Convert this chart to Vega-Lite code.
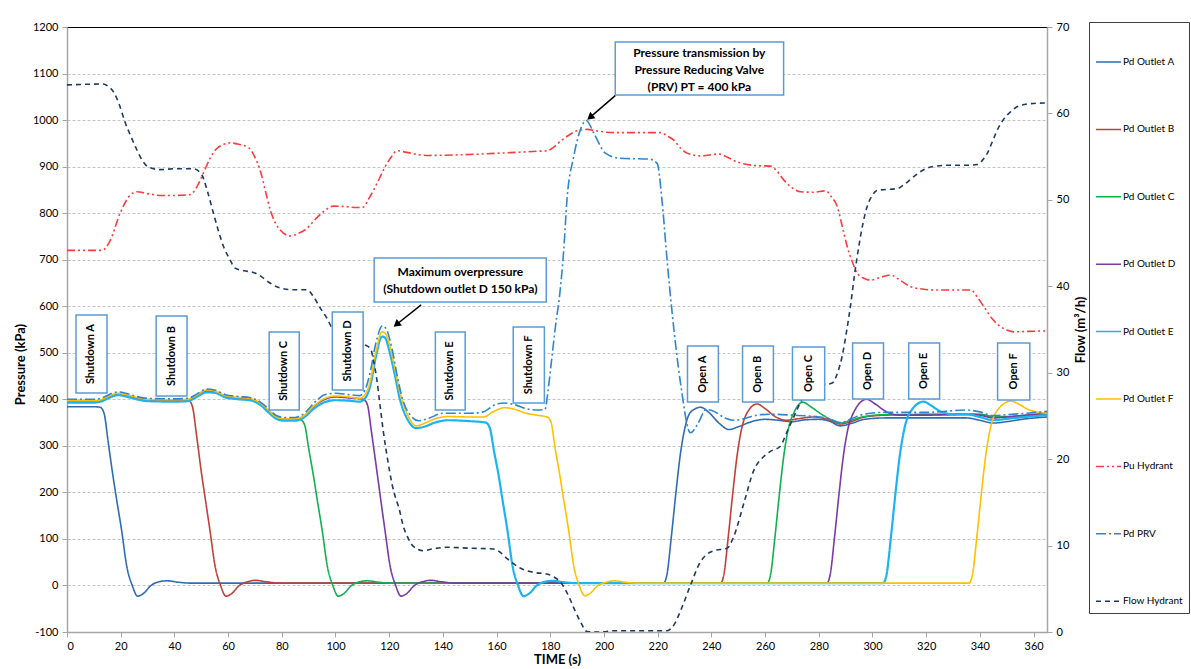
{
"$schema": "https://vega.github.io/schema/vega-lite/v6.json",
"width": 980, "height": 605,
"autosize": {"type": "none"},
"padding": {"left": 67, "top": 27, "right": 144, "bottom": 37},
"background": "white",
"config": {
 "font": "Lato",
 "view": {"stroke": "#000", "strokeWidth": 1},
 "axis": {"labelFont": "Lato", "titleFont": "Lato", "labelFontSize": 11, "labelColor": "#000", "titleColor": "#000", "titleFontSize": 13, "titleFontWeight": "bold", "domainColor": "#A6A6A6", "tickColor": "#A6A6A6", "tickSize": 5, "domainWidth": 1.5},
 "legend": {"orient": "none", "legendX": 1022, "legendY": -5, "strokeColor": "#404040", "padding": 6, "labelFont": "Lato", "labelFontSize": 10, "labelColor": "#000", "labelOffset": 1, "symbolType": "stroke", "symbolSize": 625, "symbolStrokeWidth": 1.5, "rowPadding": 48.4, "titleOrient": "top", "titleFontSize": 20, "titlePadding": 0.5}
},
"datasets": {
"p": [
{"s":"Pd Outlet A","t":0,"v":384},{"s":"Pd Outlet A","t":10,"v":384},{"s":"Pd Outlet A","t":12.3,"v":383},{"s":"Pd Outlet A","t":13.8,"v":370},{"s":"Pd Outlet A","t":15.3,"v":310},{"s":"Pd Outlet A","t":17,"v":240},{"s":"Pd Outlet A","t":18.5,"v":184},{"s":"Pd Outlet A","t":20.3,"v":120},{"s":"Pd Outlet A","t":22.3,"v":40},{"s":"Pd Outlet A","t":24.3,"v":0},{"s":"Pd Outlet A","t":26.3,"v":-23},{"s":"Pd Outlet A","t":28.3,"v":-18},{"s":"Pd Outlet A","t":31.3,"v":0},{"s":"Pd Outlet A","t":34.3,"v":8},{"s":"Pd Outlet A","t":37.3,"v":10},{"s":"Pd Outlet A","t":41.3,"v":7},{"s":"Pd Outlet A","t":46.3,"v":5},{"s":"Pd Outlet A","t":100,"v":5},{"s":"Pd Outlet A","t":200,"v":5},{"s":"Pd Outlet A","t":222.2,"v":5},{"s":"Pd Outlet A","t":223.5,"v":25},{"s":"Pd Outlet A","t":225,"v":100},{"s":"Pd Outlet A","t":226.8,"v":200},{"s":"Pd Outlet A","t":228.4,"v":280},{"s":"Pd Outlet A","t":230.2,"v":340},{"s":"Pd Outlet A","t":232.2,"v":372},{"s":"Pd Outlet A","t":236,"v":383},{"s":"Pd Outlet A","t":239,"v":372},{"s":"Pd Outlet A","t":243,"v":348},{"s":"Pd Outlet A","t":246.5,"v":335},{"s":"Pd Outlet A","t":250,"v":341},{"s":"Pd Outlet A","t":255,"v":352},{"s":"Pd Outlet A","t":260,"v":357},{"s":"Pd Outlet A","t":265,"v":355},{"s":"Pd Outlet A","t":270,"v":352},{"s":"Pd Outlet A","t":275,"v":356},{"s":"Pd Outlet A","t":280,"v":357},{"s":"Pd Outlet A","t":284,"v":353},{"s":"Pd Outlet A","t":288,"v":343},{"s":"Pd Outlet A","t":292,"v":348},{"s":"Pd Outlet A","t":297,"v":357},{"s":"Pd Outlet A","t":305,"v":360},{"s":"Pd Outlet A","t":320,"v":360},{"s":"Pd Outlet A","t":335,"v":360},{"s":"Pd Outlet A","t":340,"v":355},{"s":"Pd Outlet A","t":345,"v":349},{"s":"Pd Outlet A","t":350,"v":352},{"s":"Pd Outlet A","t":357,"v":358},{"s":"Pd Outlet A","t":365,"v":362},
{"s":"Pd Outlet B","t":0,"v":395},{"s":"Pd Outlet B","t":10,"v":395},{"s":"Pd Outlet B","t":13,"v":398},{"s":"Pd Outlet B","t":16,"v":406},{"s":"Pd Outlet B","t":19,"v":411},{"s":"Pd Outlet B","t":22,"v":408},{"s":"Pd Outlet B","t":26,"v":402},{"s":"Pd Outlet B","t":30,"v":398},{"s":"Pd Outlet B","t":40,"v":397},{"s":"Pd Outlet B","t":45.2,"v":398},{"s":"Pd Outlet B","t":46.7,"v":385},{"s":"Pd Outlet B","t":48.2,"v":325},{"s":"Pd Outlet B","t":50,"v":245},{"s":"Pd Outlet B","t":51.4,"v":190},{"s":"Pd Outlet B","t":53.2,"v":120},{"s":"Pd Outlet B","t":55.2,"v":40},{"s":"Pd Outlet B","t":57.2,"v":0},{"s":"Pd Outlet B","t":59.2,"v":-23},{"s":"Pd Outlet B","t":61.2,"v":-18},{"s":"Pd Outlet B","t":64.2,"v":0},{"s":"Pd Outlet B","t":67.2,"v":8},{"s":"Pd Outlet B","t":70.2,"v":11},{"s":"Pd Outlet B","t":74.2,"v":8},{"s":"Pd Outlet B","t":79.2,"v":5},{"s":"Pd Outlet B","t":150,"v":5},{"s":"Pd Outlet B","t":243.4,"v":5},{"s":"Pd Outlet B","t":244.7,"v":25},{"s":"Pd Outlet B","t":246.2,"v":100},{"s":"Pd Outlet B","t":248,"v":200},{"s":"Pd Outlet B","t":249.6,"v":280},{"s":"Pd Outlet B","t":251.4,"v":340},{"s":"Pd Outlet B","t":253.4,"v":372},{"s":"Pd Outlet B","t":257,"v":390},{"s":"Pd Outlet B","t":260,"v":380},{"s":"Pd Outlet B","t":264,"v":362},{"s":"Pd Outlet B","t":268,"v":355},{"s":"Pd Outlet B","t":272,"v":358},{"s":"Pd Outlet B","t":278,"v":362},{"s":"Pd Outlet B","t":282,"v":359},{"s":"Pd Outlet B","t":285,"v":353},{"s":"Pd Outlet B","t":288,"v":347},{"s":"Pd Outlet B","t":292,"v":352},{"s":"Pd Outlet B","t":297,"v":362},{"s":"Pd Outlet B","t":305,"v":366},{"s":"Pd Outlet B","t":320,"v":367},{"s":"Pd Outlet B","t":340,"v":367},{"s":"Pd Outlet B","t":345,"v":362},{"s":"Pd Outlet B","t":350,"v":362},{"s":"Pd Outlet B","t":357,"v":364},{"s":"Pd Outlet B","t":365,"v":368},
{"s":"Pd Outlet C","t":0,"v":395},{"s":"Pd Outlet C","t":10,"v":395},{"s":"Pd Outlet C","t":13,"v":398},{"s":"Pd Outlet C","t":16,"v":406},{"s":"Pd Outlet C","t":19,"v":411},{"s":"Pd Outlet C","t":22,"v":408},{"s":"Pd Outlet C","t":26,"v":402},{"s":"Pd Outlet C","t":30,"v":398},{"s":"Pd Outlet C","t":40,"v":397},{"s":"Pd Outlet C","t":45,"v":398},{"s":"Pd Outlet C","t":48,"v":406},{"s":"Pd Outlet C","t":52,"v":418},{"s":"Pd Outlet C","t":55,"v":416},{"s":"Pd Outlet C","t":59,"v":406},{"s":"Pd Outlet C","t":64,"v":402},{"s":"Pd Outlet C","t":68,"v":400},{"s":"Pd Outlet C","t":72,"v":390},{"s":"Pd Outlet C","t":75,"v":375},{"s":"Pd Outlet C","t":78,"v":362},{"s":"Pd Outlet C","t":81,"v":357},{"s":"Pd Outlet C","t":85,"v":357},{"s":"Pd Outlet C","t":87,"v":356},{"s":"Pd Outlet C","t":88.5,"v":345},{"s":"Pd Outlet C","t":90,"v":295},{"s":"Pd Outlet C","t":91.8,"v":235},{"s":"Pd Outlet C","t":93.2,"v":184},{"s":"Pd Outlet C","t":95,"v":120},{"s":"Pd Outlet C","t":97,"v":40},{"s":"Pd Outlet C","t":99,"v":0},{"s":"Pd Outlet C","t":101,"v":-23},{"s":"Pd Outlet C","t":103,"v":-18},{"s":"Pd Outlet C","t":106,"v":0},{"s":"Pd Outlet C","t":109,"v":8},{"s":"Pd Outlet C","t":112,"v":10},{"s":"Pd Outlet C","t":116,"v":7},{"s":"Pd Outlet C","t":121,"v":5},{"s":"Pd Outlet C","t":200,"v":5},{"s":"Pd Outlet C","t":260.8,"v":5},{"s":"Pd Outlet C","t":262.1,"v":25},{"s":"Pd Outlet C","t":263.6,"v":100},{"s":"Pd Outlet C","t":265.4,"v":200},{"s":"Pd Outlet C","t":267,"v":280},{"s":"Pd Outlet C","t":268.8,"v":340},{"s":"Pd Outlet C","t":270.8,"v":372},{"s":"Pd Outlet C","t":274,"v":394},{"s":"Pd Outlet C","t":277,"v":384},{"s":"Pd Outlet C","t":281,"v":368},{"s":"Pd Outlet C","t":285,"v":355},{"s":"Pd Outlet C","t":288,"v":349},{"s":"Pd Outlet C","t":292,"v":355},{"s":"Pd Outlet C","t":297,"v":363},{"s":"Pd Outlet C","t":305,"v":367},{"s":"Pd Outlet C","t":340,"v":368},{"s":"Pd Outlet C","t":345,"v":363},{"s":"Pd Outlet C","t":350,"v":363},{"s":"Pd Outlet C","t":357,"v":365},{"s":"Pd Outlet C","t":365,"v":368},
{"s":"Pd Outlet D","t":0,"v":395},{"s":"Pd Outlet D","t":10,"v":395},{"s":"Pd Outlet D","t":13,"v":398},{"s":"Pd Outlet D","t":16,"v":406},{"s":"Pd Outlet D","t":19,"v":411},{"s":"Pd Outlet D","t":22,"v":408},{"s":"Pd Outlet D","t":26,"v":402},{"s":"Pd Outlet D","t":30,"v":398},{"s":"Pd Outlet D","t":40,"v":397},{"s":"Pd Outlet D","t":45,"v":398},{"s":"Pd Outlet D","t":48,"v":406},{"s":"Pd Outlet D","t":52,"v":418},{"s":"Pd Outlet D","t":55,"v":416},{"s":"Pd Outlet D","t":59,"v":406},{"s":"Pd Outlet D","t":64,"v":402},{"s":"Pd Outlet D","t":68,"v":400},{"s":"Pd Outlet D","t":72,"v":390},{"s":"Pd Outlet D","t":75,"v":375},{"s":"Pd Outlet D","t":78,"v":362},{"s":"Pd Outlet D","t":81,"v":357},{"s":"Pd Outlet D","t":85,"v":357},{"s":"Pd Outlet D","t":88,"v":362},{"s":"Pd Outlet D","t":92,"v":385},{"s":"Pd Outlet D","t":96,"v":400},{"s":"Pd Outlet D","t":100,"v":405},{"s":"Pd Outlet D","t":105,"v":403},{"s":"Pd Outlet D","t":110.4,"v":400},{"s":"Pd Outlet D","t":111.9,"v":388},{"s":"Pd Outlet D","t":113.4,"v":330},{"s":"Pd Outlet D","t":115.2,"v":255},{"s":"Pd Outlet D","t":116.6,"v":195},{"s":"Pd Outlet D","t":118.4,"v":120},{"s":"Pd Outlet D","t":120.4,"v":40},{"s":"Pd Outlet D","t":122.4,"v":0},{"s":"Pd Outlet D","t":124.4,"v":-23},{"s":"Pd Outlet D","t":126.4,"v":-18},{"s":"Pd Outlet D","t":129.4,"v":0},{"s":"Pd Outlet D","t":132.4,"v":8},{"s":"Pd Outlet D","t":135.4,"v":11},{"s":"Pd Outlet D","t":139.4,"v":8},{"s":"Pd Outlet D","t":144.4,"v":5},{"s":"Pd Outlet D","t":200,"v":5},{"s":"Pd Outlet D","t":283,"v":5},{"s":"Pd Outlet D","t":284.3,"v":25},{"s":"Pd Outlet D","t":285.8,"v":100},{"s":"Pd Outlet D","t":287.6,"v":200},{"s":"Pd Outlet D","t":289.2,"v":280},{"s":"Pd Outlet D","t":291,"v":340},{"s":"Pd Outlet D","t":293,"v":372},{"s":"Pd Outlet D","t":297.8,"v":400},{"s":"Pd Outlet D","t":301,"v":390},{"s":"Pd Outlet D","t":305,"v":374},{"s":"Pd Outlet D","t":310,"v":366},{"s":"Pd Outlet D","t":320,"v":366},{"s":"Pd Outlet D","t":335,"v":368},{"s":"Pd Outlet D","t":340,"v":366},{"s":"Pd Outlet D","t":345,"v":360},{"s":"Pd Outlet D","t":350,"v":362},{"s":"Pd Outlet D","t":357,"v":366},{"s":"Pd Outlet D","t":365,"v":370},
{"s":"Pd Outlet E","t":0,"v":393},{"s":"Pd Outlet E","t":10,"v":393},{"s":"Pd Outlet E","t":13,"v":396},{"s":"Pd Outlet E","t":16,"v":404},{"s":"Pd Outlet E","t":19,"v":409},{"s":"Pd Outlet E","t":22,"v":406},{"s":"Pd Outlet E","t":26,"v":400},{"s":"Pd Outlet E","t":30,"v":396},{"s":"Pd Outlet E","t":40,"v":395},{"s":"Pd Outlet E","t":45,"v":396},{"s":"Pd Outlet E","t":48,"v":404},{"s":"Pd Outlet E","t":52,"v":415},{"s":"Pd Outlet E","t":55,"v":414},{"s":"Pd Outlet E","t":59,"v":404},{"s":"Pd Outlet E","t":64,"v":400},{"s":"Pd Outlet E","t":68,"v":398},{"s":"Pd Outlet E","t":72,"v":388},{"s":"Pd Outlet E","t":75,"v":372},{"s":"Pd Outlet E","t":78,"v":358},{"s":"Pd Outlet E","t":81,"v":354},{"s":"Pd Outlet E","t":85,"v":354},{"s":"Pd Outlet E","t":88,"v":360},{"s":"Pd Outlet E","t":92,"v":380},{"s":"Pd Outlet E","t":96,"v":394},{"s":"Pd Outlet E","t":100,"v":398},{"s":"Pd Outlet E","t":105,"v":397},{"s":"Pd Outlet E","t":109,"v":395},{"s":"Pd Outlet E","t":111,"v":402},{"s":"Pd Outlet E","t":113,"v":430},{"s":"Pd Outlet E","t":115,"v":490},{"s":"Pd Outlet E","t":117.3,"v":535},{"s":"Pd Outlet E","t":118.5,"v":532},{"s":"Pd Outlet E","t":120,"v":505},{"s":"Pd Outlet E","t":122,"v":455},{"s":"Pd Outlet E","t":124,"v":400},{"s":"Pd Outlet E","t":127,"v":355},{"s":"Pd Outlet E","t":130,"v":338},{"s":"Pd Outlet E","t":133,"v":341},{"s":"Pd Outlet E","t":137,"v":350},{"s":"Pd Outlet E","t":142,"v":355},{"s":"Pd Outlet E","t":150,"v":353},{"s":"Pd Outlet E","t":156,"v":350},{"s":"Pd Outlet E","t":157.5,"v":338},{"s":"Pd Outlet E","t":159,"v":290},{"s":"Pd Outlet E","t":160.8,"v":235},{"s":"Pd Outlet E","t":162.2,"v":184},{"s":"Pd Outlet E","t":164,"v":120},{"s":"Pd Outlet E","t":166,"v":40},{"s":"Pd Outlet E","t":168,"v":0},{"s":"Pd Outlet E","t":170,"v":-23},{"s":"Pd Outlet E","t":172,"v":-18},{"s":"Pd Outlet E","t":175,"v":0},{"s":"Pd Outlet E","t":178,"v":8},{"s":"Pd Outlet E","t":181,"v":10},{"s":"Pd Outlet E","t":185,"v":7},{"s":"Pd Outlet E","t":190,"v":5},{"s":"Pd Outlet E","t":304,"v":5},{"s":"Pd Outlet E","t":305.3,"v":25},{"s":"Pd Outlet E","t":306.8,"v":100},{"s":"Pd Outlet E","t":308.6,"v":200},{"s":"Pd Outlet E","t":310.2,"v":280},{"s":"Pd Outlet E","t":312,"v":340},{"s":"Pd Outlet E","t":314,"v":372},{"s":"Pd Outlet E","t":319,"v":395},{"s":"Pd Outlet E","t":322,"v":386},{"s":"Pd Outlet E","t":325,"v":375},{"s":"Pd Outlet E","t":330,"v":368},{"s":"Pd Outlet E","t":335,"v":368},{"s":"Pd Outlet E","t":340,"v":362},{"s":"Pd Outlet E","t":345,"v":355},{"s":"Pd Outlet E","t":350,"v":358},{"s":"Pd Outlet E","t":357,"v":362},{"s":"Pd Outlet E","t":365,"v":366},
{"s":"Pd Outlet F","t":0,"v":397},{"s":"Pd Outlet F","t":10,"v":397},{"s":"Pd Outlet F","t":13,"v":400},{"s":"Pd Outlet F","t":16,"v":408},{"s":"Pd Outlet F","t":19,"v":413},{"s":"Pd Outlet F","t":22,"v":410},{"s":"Pd Outlet F","t":26,"v":404},{"s":"Pd Outlet F","t":30,"v":400},{"s":"Pd Outlet F","t":40,"v":399},{"s":"Pd Outlet F","t":45,"v":400},{"s":"Pd Outlet F","t":48,"v":408},{"s":"Pd Outlet F","t":52,"v":420},{"s":"Pd Outlet F","t":55,"v":418},{"s":"Pd Outlet F","t":59,"v":408},{"s":"Pd Outlet F","t":64,"v":404},{"s":"Pd Outlet F","t":68,"v":402},{"s":"Pd Outlet F","t":72,"v":392},{"s":"Pd Outlet F","t":75,"v":377},{"s":"Pd Outlet F","t":78,"v":362},{"s":"Pd Outlet F","t":81,"v":358},{"s":"Pd Outlet F","t":85,"v":358},{"s":"Pd Outlet F","t":88,"v":364},{"s":"Pd Outlet F","t":92,"v":386},{"s":"Pd Outlet F","t":96,"v":402},{"s":"Pd Outlet F","t":100,"v":407},{"s":"Pd Outlet F","t":105,"v":405},{"s":"Pd Outlet F","t":109,"v":402},{"s":"Pd Outlet F","t":111,"v":410},{"s":"Pd Outlet F","t":113,"v":440},{"s":"Pd Outlet F","t":115,"v":500},{"s":"Pd Outlet F","t":117.3,"v":545},{"s":"Pd Outlet F","t":118.5,"v":542},{"s":"Pd Outlet F","t":120,"v":520},{"s":"Pd Outlet F","t":122,"v":470},{"s":"Pd Outlet F","t":124,"v":415},{"s":"Pd Outlet F","t":127,"v":365},{"s":"Pd Outlet F","t":130,"v":343},{"s":"Pd Outlet F","t":133,"v":348},{"s":"Pd Outlet F","t":137,"v":358},{"s":"Pd Outlet F","t":142,"v":363},{"s":"Pd Outlet F","t":150,"v":362},{"s":"Pd Outlet F","t":155,"v":362},{"s":"Pd Outlet F","t":159,"v":374},{"s":"Pd Outlet F","t":163,"v":382},{"s":"Pd Outlet F","t":167,"v":378},{"s":"Pd Outlet F","t":171,"v":370},{"s":"Pd Outlet F","t":175,"v":366},{"s":"Pd Outlet F","t":178.8,"v":362},{"s":"Pd Outlet F","t":180.3,"v":350},{"s":"Pd Outlet F","t":181.8,"v":295},{"s":"Pd Outlet F","t":183.6,"v":235},{"s":"Pd Outlet F","t":185,"v":184},{"s":"Pd Outlet F","t":186.8,"v":120},{"s":"Pd Outlet F","t":188.8,"v":40},{"s":"Pd Outlet F","t":190.8,"v":0},{"s":"Pd Outlet F","t":192.8,"v":-22},{"s":"Pd Outlet F","t":194.8,"v":-17},{"s":"Pd Outlet F","t":197.8,"v":0},{"s":"Pd Outlet F","t":200.8,"v":7},{"s":"Pd Outlet F","t":203.8,"v":10},{"s":"Pd Outlet F","t":207.8,"v":7},{"s":"Pd Outlet F","t":212.8,"v":5},{"s":"Pd Outlet F","t":336,"v":5},{"s":"Pd Outlet F","t":337.3,"v":25},{"s":"Pd Outlet F","t":338.8,"v":100},{"s":"Pd Outlet F","t":340.6,"v":200},{"s":"Pd Outlet F","t":342.2,"v":280},{"s":"Pd Outlet F","t":344,"v":340},{"s":"Pd Outlet F","t":346,"v":372},{"s":"Pd Outlet F","t":351.5,"v":396},{"s":"Pd Outlet F","t":355,"v":388},{"s":"Pd Outlet F","t":358,"v":378},{"s":"Pd Outlet F","t":362,"v":372},{"s":"Pd Outlet F","t":365,"v":370},
{"s":"Pu Hydrant","t":0,"v":720},{"s":"Pu Hydrant","t":13,"v":720},{"s":"Pu Hydrant","t":16,"v":740},{"s":"Pu Hydrant","t":19.8,"v":800},{"s":"Pu Hydrant","t":23,"v":835},{"s":"Pu Hydrant","t":26,"v":846},{"s":"Pu Hydrant","t":30,"v":842},{"s":"Pu Hydrant","t":35,"v":838},{"s":"Pu Hydrant","t":40,"v":838},{"s":"Pu Hydrant","t":46,"v":840},{"s":"Pu Hydrant","t":48.5,"v":858},{"s":"Pu Hydrant","t":50.8,"v":886},{"s":"Pu Hydrant","t":53.5,"v":920},{"s":"Pu Hydrant","t":55.8,"v":939},{"s":"Pu Hydrant","t":58,"v":947},{"s":"Pu Hydrant","t":60.8,"v":951},{"s":"Pu Hydrant","t":64,"v":948},{"s":"Pu Hydrant","t":67.6,"v":941},{"s":"Pu Hydrant","t":70,"v":920},{"s":"Pu Hydrant","t":71.9,"v":893},{"s":"Pu Hydrant","t":73.8,"v":850},{"s":"Pu Hydrant","t":75.7,"v":807},{"s":"Pu Hydrant","t":77.5,"v":780},{"s":"Pu Hydrant","t":79.4,"v":764},{"s":"Pu Hydrant","t":83.1,"v":751},{"s":"Pu Hydrant","t":86,"v":756},{"s":"Pu Hydrant","t":89.3,"v":767},{"s":"Pu Hydrant","t":92.5,"v":787},{"s":"Pu Hydrant","t":95.5,"v":803},{"s":"Pu Hydrant","t":99.3,"v":815},{"s":"Pu Hydrant","t":104,"v":814},{"s":"Pu Hydrant","t":108,"v":812},{"s":"Pu Hydrant","t":110.4,"v":813},{"s":"Pu Hydrant","t":112.3,"v":830},{"s":"Pu Hydrant","t":114.2,"v":850},{"s":"Pu Hydrant","t":116.4,"v":875},{"s":"Pu Hydrant","t":118.5,"v":900},{"s":"Pu Hydrant","t":120.7,"v":920},{"s":"Pu Hydrant","t":122.9,"v":934},{"s":"Pu Hydrant","t":127,"v":930},{"s":"Pu Hydrant","t":134,"v":924},{"s":"Pu Hydrant","t":144,"v":925},{"s":"Pu Hydrant","t":154,"v":927},{"s":"Pu Hydrant","t":165,"v":930},{"s":"Pu Hydrant","t":175,"v":933},{"s":"Pu Hydrant","t":178.8,"v":934},{"s":"Pu Hydrant","t":181.3,"v":942},{"s":"Pu Hydrant","t":183.7,"v":954},{"s":"Pu Hydrant","t":187,"v":968},{"s":"Pu Hydrant","t":190,"v":977},{"s":"Pu Hydrant","t":193.7,"v":980},{"s":"Pu Hydrant","t":198,"v":976},{"s":"Pu Hydrant","t":203.6,"v":973},{"s":"Pu Hydrant","t":212,"v":973},{"s":"Pu Hydrant","t":221,"v":973},{"s":"Pu Hydrant","t":223.5,"v":966},{"s":"Pu Hydrant","t":226,"v":957},{"s":"Pu Hydrant","t":228.5,"v":940},{"s":"Pu Hydrant","t":231,"v":929},{"s":"Pu Hydrant","t":236,"v":923},{"s":"Pu Hydrant","t":242.8,"v":927},{"s":"Pu Hydrant","t":246,"v":920},{"s":"Pu Hydrant","t":249.6,"v":910},{"s":"Pu Hydrant","t":252,"v":906},{"s":"Pu Hydrant","t":257,"v":902},{"s":"Pu Hydrant","t":262,"v":901},{"s":"Pu Hydrant","t":264.5,"v":890},{"s":"Pu Hydrant","t":267,"v":871},{"s":"Pu Hydrant","t":270,"v":855},{"s":"Pu Hydrant","t":273.2,"v":846},{"s":"Pu Hydrant","t":278,"v":845},{"s":"Pu Hydrant","t":282.5,"v":848},{"s":"Pu Hydrant","t":284.7,"v":835},{"s":"Pu Hydrant","t":286.9,"v":814},{"s":"Pu Hydrant","t":288.8,"v":770},{"s":"Pu Hydrant","t":290.6,"v":728},{"s":"Pu Hydrant","t":292.5,"v":695},{"s":"Pu Hydrant","t":294.3,"v":671},{"s":"Pu Hydrant","t":296.8,"v":660},{"s":"Pu Hydrant","t":299.3,"v":656},{"s":"Pu Hydrant","t":303,"v":662},{"s":"Pu Hydrant","t":306.7,"v":667},{"s":"Pu Hydrant","t":310.5,"v":655},{"s":"Pu Hydrant","t":314.2,"v":642},{"s":"Pu Hydrant","t":318.5,"v":637},{"s":"Pu Hydrant","t":322.9,"v":635},{"s":"Pu Hydrant","t":330,"v":635},{"s":"Pu Hydrant","t":336.6,"v":635},{"s":"Pu Hydrant","t":339,"v":620},{"s":"Pu Hydrant","t":341.5,"v":599},{"s":"Pu Hydrant","t":344.6,"v":573},{"s":"Pu Hydrant","t":347.7,"v":556},{"s":"Pu Hydrant","t":350,"v":549},{"s":"Pu Hydrant","t":352.7,"v":545},{"s":"Pu Hydrant","t":358,"v":546},{"s":"Pu Hydrant","t":365,"v":547},
{"s":"Pd PRV","t":0,"v":400},{"s":"Pd PRV","t":10,"v":400},{"s":"Pd PRV","t":13,"v":403},{"s":"Pd PRV","t":16,"v":411},{"s":"Pd PRV","t":19,"v":416},{"s":"Pd PRV","t":22,"v":413},{"s":"Pd PRV","t":26,"v":406},{"s":"Pd PRV","t":30,"v":402},{"s":"Pd PRV","t":40,"v":401},{"s":"Pd PRV","t":45,"v":402},{"s":"Pd PRV","t":48,"v":410},{"s":"Pd PRV","t":52,"v":422},{"s":"Pd PRV","t":55,"v":420},{"s":"Pd PRV","t":59,"v":410},{"s":"Pd PRV","t":64,"v":406},{"s":"Pd PRV","t":68,"v":404},{"s":"Pd PRV","t":72,"v":394},{"s":"Pd PRV","t":75,"v":380},{"s":"Pd PRV","t":78,"v":365},{"s":"Pd PRV","t":81,"v":361},{"s":"Pd PRV","t":85,"v":361},{"s":"Pd PRV","t":88,"v":368},{"s":"Pd PRV","t":92,"v":392},{"s":"Pd PRV","t":96,"v":410},{"s":"Pd PRV","t":100,"v":413},{"s":"Pd PRV","t":105,"v":410},{"s":"Pd PRV","t":109,"v":408},{"s":"Pd PRV","t":111,"v":420},{"s":"Pd PRV","t":113,"v":460},{"s":"Pd PRV","t":115,"v":520},{"s":"Pd PRV","t":117.5,"v":558},{"s":"Pd PRV","t":119,"v":550},{"s":"Pd PRV","t":121,"v":510},{"s":"Pd PRV","t":123,"v":450},{"s":"Pd PRV","t":125,"v":400},{"s":"Pd PRV","t":128,"v":365},{"s":"Pd PRV","t":131,"v":354},{"s":"Pd PRV","t":135,"v":360},{"s":"Pd PRV","t":140,"v":370},{"s":"Pd PRV","t":150,"v":370},{"s":"Pd PRV","t":155,"v":373},{"s":"Pd PRV","t":160,"v":390},{"s":"Pd PRV","t":163,"v":392},{"s":"Pd PRV","t":167,"v":388},{"s":"Pd PRV","t":171,"v":380},{"s":"Pd PRV","t":175,"v":377},{"s":"Pd PRV","t":178,"v":378},{"s":"Pd PRV","t":179.2,"v":420},{"s":"Pd PRV","t":180.4,"v":480},{"s":"Pd PRV","t":182,"v":560},{"s":"Pd PRV","t":183.5,"v":625},{"s":"Pd PRV","t":185,"v":720},{"s":"Pd PRV","t":186.2,"v":828},{"s":"Pd PRV","t":188.7,"v":921},{"s":"Pd PRV","t":191.2,"v":979},{"s":"Pd PRV","t":193.4,"v":999},{"s":"Pd PRV","t":196.2,"v":972},{"s":"Pd PRV","t":200.5,"v":929},{"s":"Pd PRV","t":206,"v":918},{"s":"Pd PRV","t":217,"v":916},{"s":"Pd PRV","t":219.8,"v":907},{"s":"Pd PRV","t":221.6,"v":828},{"s":"Pd PRV","t":223.5,"v":699},{"s":"Pd PRV","t":225.4,"v":585},{"s":"Pd PRV","t":228.5,"v":435},{"s":"Pd PRV","t":232.2,"v":328},{"s":"Pd PRV","t":235,"v":348},{"s":"Pd PRV","t":238,"v":378},{"s":"Pd PRV","t":241,"v":374},{"s":"Pd PRV","t":245,"v":360},{"s":"Pd PRV","t":248,"v":355},{"s":"Pd PRV","t":252,"v":358},{"s":"Pd PRV","t":256,"v":365},{"s":"Pd PRV","t":262,"v":368},{"s":"Pd PRV","t":270,"v":366},{"s":"Pd PRV","t":280,"v":362},{"s":"Pd PRV","t":284,"v":358},{"s":"Pd PRV","t":288,"v":350},{"s":"Pd PRV","t":292,"v":358},{"s":"Pd PRV","t":297,"v":368},{"s":"Pd PRV","t":305,"v":372},{"s":"Pd PRV","t":320,"v":372},{"s":"Pd PRV","t":335,"v":377},{"s":"Pd PRV","t":340,"v":373},{"s":"Pd PRV","t":345,"v":365},{"s":"Pd PRV","t":350,"v":367},{"s":"Pd PRV","t":357,"v":370},{"s":"Pd PRV","t":365,"v":374}
],
"f": [
{"s":"Flow Hydrant","t":0,"v":63.3},{"s":"Flow Hydrant","t":13.5,"v":63.4},{"s":"Flow Hydrant","t":15.5,"v":63.1},{"s":"Flow Hydrant","t":17.3,"v":62.5},{"s":"Flow Hydrant","t":19.5,"v":61},{"s":"Flow Hydrant","t":21.6,"v":59},{"s":"Flow Hydrant","t":24,"v":57.2},{"s":"Flow Hydrant","t":26,"v":55.8},{"s":"Flow Hydrant","t":28,"v":54.6},{"s":"Flow Hydrant","t":30.3,"v":53.8},{"s":"Flow Hydrant","t":34.7,"v":53.5},{"s":"Flow Hydrant","t":40,"v":53.6},{"s":"Flow Hydrant","t":47.1,"v":53.6},{"s":"Flow Hydrant","t":50.2,"v":52.9},{"s":"Flow Hydrant","t":52.3,"v":51},{"s":"Flow Hydrant","t":54.5,"v":48.5},{"s":"Flow Hydrant","t":56.4,"v":46.4},{"s":"Flow Hydrant","t":58.3,"v":44.6},{"s":"Flow Hydrant","t":60.5,"v":43.2},{"s":"Flow Hydrant","t":62.6,"v":42.1},{"s":"Flow Hydrant","t":66,"v":41.8},{"s":"Flow Hydrant","t":69.4,"v":41.6},{"s":"Flow Hydrant","t":72,"v":41.2},{"s":"Flow Hydrant","t":75,"v":40.5},{"s":"Flow Hydrant","t":79.4,"v":39.8},{"s":"Flow Hydrant","t":84,"v":39.6},{"s":"Flow Hydrant","t":89.3,"v":39.6},{"s":"Flow Hydrant","t":91.8,"v":38.8},{"s":"Flow Hydrant","t":94.3,"v":37.5},{"s":"Flow Hydrant","t":96.8,"v":36.3},{"s":"Flow Hydrant","t":99,"v":35},{"s":"Flow Hydrant","t":103,"v":34},{"s":"Flow Hydrant","t":107,"v":33.5},{"s":"Flow Hydrant","t":111,"v":33.2},{"s":"Flow Hydrant","t":113,"v":32.8},{"s":"Flow Hydrant","t":114.3,"v":31.2},{"s":"Flow Hydrant","t":115.4,"v":29.2},{"s":"Flow Hydrant","t":116.6,"v":26.2},{"s":"Flow Hydrant","t":117.9,"v":23},{"s":"Flow Hydrant","t":119.5,"v":19.8},{"s":"Flow Hydrant","t":121,"v":17.2},{"s":"Flow Hydrant","t":122.5,"v":15.4},{"s":"Flow Hydrant","t":123.5,"v":14.5},{"s":"Flow Hydrant","t":125.3,"v":12.2},{"s":"Flow Hydrant","t":127,"v":10.9},{"s":"Flow Hydrant","t":129,"v":9.9},{"s":"Flow Hydrant","t":132.8,"v":9.4},{"s":"Flow Hydrant","t":136,"v":9.6},{"s":"Flow Hydrant","t":141.5,"v":9.8},{"s":"Flow Hydrant","t":150,"v":9.7},{"s":"Flow Hydrant","t":158.9,"v":9.6},{"s":"Flow Hydrant","t":161,"v":9.3},{"s":"Flow Hydrant","t":163.9,"v":8.5},{"s":"Flow Hydrant","t":166.3,"v":7.9},{"s":"Flow Hydrant","t":168.8,"v":7.4},{"s":"Flow Hydrant","t":173.8,"v":6.9},{"s":"Flow Hydrant","t":178.8,"v":6.7},{"s":"Flow Hydrant","t":181.2,"v":6.4},{"s":"Flow Hydrant","t":183.7,"v":5.8},{"s":"Flow Hydrant","t":185.6,"v":4.9},{"s":"Flow Hydrant","t":187.5,"v":3.7},{"s":"Flow Hydrant","t":189.3,"v":2.4},{"s":"Flow Hydrant","t":191.2,"v":1.2},{"s":"Flow Hydrant","t":193.7,"v":0.05},{"s":"Flow Hydrant","t":197,"v":0},{"s":"Flow Hydrant","t":201,"v":0.05},{"s":"Flow Hydrant","t":203.6,"v":0.15},{"s":"Flow Hydrant","t":215,"v":0.15},{"s":"Flow Hydrant","t":223.5,"v":0.15},{"s":"Flow Hydrant","t":226,"v":0.8},{"s":"Flow Hydrant","t":229.1,"v":2.9},{"s":"Flow Hydrant","t":232.2,"v":5.4},{"s":"Flow Hydrant","t":235.9,"v":8.1},{"s":"Flow Hydrant","t":238.4,"v":9},{"s":"Flow Hydrant","t":240.9,"v":9.4},{"s":"Flow Hydrant","t":245.9,"v":9.7},{"s":"Flow Hydrant","t":248.4,"v":11.1},{"s":"Flow Hydrant","t":252.1,"v":14.9},{"s":"Flow Hydrant","t":255.8,"v":18.7},{"s":"Flow Hydrant","t":259.5,"v":20.3},{"s":"Flow Hydrant","t":262,"v":20.9},{"s":"Flow Hydrant","t":265.7,"v":21.5},{"s":"Flow Hydrant","t":268.2,"v":23.2},{"s":"Flow Hydrant","t":270.7,"v":24.9},{"s":"Flow Hydrant","t":273.2,"v":26.6},{"s":"Flow Hydrant","t":275.7,"v":28},{"s":"Flow Hydrant","t":279,"v":28.4},{"s":"Flow Hydrant","t":281.9,"v":28.6},{"s":"Flow Hydrant","t":285,"v":28.8},{"s":"Flow Hydrant","t":287,"v":30},{"s":"Flow Hydrant","t":288.7,"v":31.9},{"s":"Flow Hydrant","t":290.3,"v":34.7},{"s":"Flow Hydrant","t":291.8,"v":37.7},{"s":"Flow Hydrant","t":293.3,"v":41.3},{"s":"Flow Hydrant","t":294.9,"v":44.6},{"s":"Flow Hydrant","t":296.4,"v":47.2},{"s":"Flow Hydrant","t":298,"v":49.2},{"s":"Flow Hydrant","t":299.9,"v":50.5},{"s":"Flow Hydrant","t":301.8,"v":51.1},{"s":"Flow Hydrant","t":305,"v":51.2},{"s":"Flow Hydrant","t":309.2,"v":51.3},{"s":"Flow Hydrant","t":312.3,"v":51.9},{"s":"Flow Hydrant","t":315.4,"v":52.7},{"s":"Flow Hydrant","t":318.6,"v":53.4},{"s":"Flow Hydrant","t":321.7,"v":53.8},{"s":"Flow Hydrant","t":328,"v":54},{"s":"Flow Hydrant","t":335,"v":54},{"s":"Flow Hydrant","t":339,"v":54.1},{"s":"Flow Hydrant","t":341,"v":54.6},{"s":"Flow Hydrant","t":342.8,"v":55.4},{"s":"Flow Hydrant","t":345,"v":57},{"s":"Flow Hydrant","t":347,"v":58.4},{"s":"Flow Hydrant","t":349,"v":59.4},{"s":"Flow Hydrant","t":351.5,"v":60.2},{"s":"Flow Hydrant","t":354,"v":60.8},{"s":"Flow Hydrant","t":358,"v":61.1},{"s":"Flow Hydrant","t":363.9,"v":61.2},{"s":"Flow Hydrant","t":365,"v":61.2}
],
"boxes": [
{"label":"Shutdown A","t0":3.35,"t1":14.9,"p0":413.6,"p1":581,"tc":9.1,"pc":497},
{"label":"Shutdown B","t0":33.2,"t1":44.7,"p0":407,"p1":579,"tc":39,"pc":493},
{"label":"Shutdown C","t0":75.3,"t1":86.5,"p0":377,"p1":544.7,"tc":80.9,"pc":461},
{"label":"Shutdown D","t0":98.8,"t1":110.3,"p0":420,"p1":587.7,"tc":104.5,"pc":504},
{"label":"Shutdown E","t0":137.2,"t1":148.3,"p0":377,"p1":544.7,"tc":142.7,"pc":461},
{"label":"Shutdown F","t0":166.2,"t1":177.8,"p0":392,"p1":555.4,"tc":172,"pc":474},
{"label":"Open  A","t0":231.1,"t1":242.6,"p0":394,"p1":514.6,"tc":236.9,"pc":454},
{"label":"Open  B","t0":251.6,"t1":263.1,"p0":394,"p1":514.6,"tc":257.4,"pc":454},
{"label":"Open  C","t0":270.2,"t1":282.2,"p0":398.6,"p1":512.5,"tc":276.2,"pc":455.5},
{"label":"Open  D","t0":292.6,"t1":304.1,"p0":400.7,"p1":521,"tc":298.4,"pc":461},
{"label":"Open  E","t0":313.5,"t1":325,"p0":400.7,"p1":521,"tc":319.2,"pc":461},
{"label":"Open  F","t0":346.6,"t1":358.6,"p0":398.6,"p1":521,"tc":352.6,"pc":460}
],
"callouts": [
{"label":"Maximum overpressure\n(Shutdown outlet D 150 kPa)","t0":114.4,"t1":178.5,"p0":609.1,"p1":703.7,"tc":146.5,"pc":674},
{"label":"Pressure transmission by\nPressure Reducing Valve\n(PRV) PT = 400 kPa","t0":204.2,"t1":266.9,"p0":1053.9,"p1":1167.8,"tc":235.5,"pc":1144}
],
"arrows": [
{"t":131.9,"p":603,"t2":122.7,"p2":560.8},
{"t":204.2,"p":1052.4,"t2":194.8,"p2":1005.8}
]
},
"layer": [
{
 "data": {"name": "p"},
 "mark": {"type": "line", "interpolate": "monotone", "clip": true},
 "encoding": {
  "x": {"field": "t", "type": "quantitative", "title": "TIME (s)", "scale": {"domain": [0, 365], "nice": false, "zero": false},
        "axis": {"values": [0,10,20,30,40,50,60,70,80,90,100,110,120,130,140,150,160,170,180,190,200,210,220,230,240,250,260,270,280,290,300,310,320,330,340,350,360], "grid": false, "format": "d", "labelPadding": 3, "titlePadding": 2}},
  "y": {"field": "v", "type": "quantitative", "title": "Pressure (kPa)", "scale": {"domain": [-100, 1200], "nice": false, "zero": false},
        "axis": {"orient": "left", "values": [-100,0,100,200,300,400,500,600,700,800,900,1000,1100,1200], "grid": true,
                 "gridColor": {"condition": {"test": "datum.value == 1200", "value": "#000000"}, "value": "#C4C4C4"},
                 "gridDash": {"condition": {"test": "datum.value == 1200", "value": []}, "value": [3, 2]},
                 "labelExpr": "datum.value < 0 ? '-' + format(-datum.value, 'd') : format(datum.value, 'd')", "labelPadding": 4, "titlePadding": 5, "titleY": 337}},
  "color": {"field": "s", "type": "nominal", "title": "\u200b",
    "scale": {"domain": ["Pd Outlet A","Pd Outlet B","Pd Outlet C","Pd Outlet D","Pd Outlet E","Pd Outlet F","Pu Hydrant","Pd PRV","Flow Hydrant"],
              "range": ["#2E6EB0","#C0403A","#12B04E","#7B3AA5","#1CB4F0","#FFC000","#FF3B3B","#2E86D1","#1F3B63"]}},
  "strokeDash": {"field": "s", "type": "nominal", "title": "\u200b",
    "scale": {"domain": ["Pd Outlet A","Pd Outlet B","Pd Outlet C","Pd Outlet D","Pd Outlet E","Pd Outlet F","Pu Hydrant","Pd PRV","Flow Hydrant"],
              "range": [[1,0],[1,0],[1,0],[1,0],[1,0],[1,0],[8,3,2,3,2,3],[10,3,2,3],[5,4]]}},
  "strokeWidth": {"condition": {"test": "datum.s == 'Pd Outlet E'", "value": 2.2}, "value": 1.6}
 }
},
{
 "data": {"name": "f"},
 "mark": {"type": "line", "interpolate": "monotone", "clip": true, "strokeWidth": 1.6},
 "encoding": {
  "x": {"field": "t", "type": "quantitative", "title": "TIME (s)", "scale": {"domain": [0, 365], "nice": false, "zero": false}},
  "y": {"field": "v", "type": "quantitative", "title": "Flow (m³/h)", "scale": {"domain": [0, 70], "nice": false, "zero": false},
        "axis": {"orient": "right", "values": [0,10,20,30,40,50,60,70], "grid": false, "format": "d", "labelPadding": 4, "titlePadding": 6, "titleAngle": 270, "titleBaseline": "top"}},
  "color": {"field": "s", "type": "nominal", "title": "\u200b",
    "scale": {"domain": ["Pd Outlet A","Pd Outlet B","Pd Outlet C","Pd Outlet D","Pd Outlet E","Pd Outlet F","Pu Hydrant","Pd PRV","Flow Hydrant"],
              "range": ["#2E6EB0","#C0403A","#12B04E","#7B3AA5","#1CB4F0","#FFC000","#FF3B3B","#2E86D1","#1F3B63"]}},
  "strokeDash": {"field": "s", "type": "nominal", "title": "\u200b",
    "scale": {"domain": ["Pd Outlet A","Pd Outlet B","Pd Outlet C","Pd Outlet D","Pd Outlet E","Pd Outlet F","Pu Hydrant","Pd PRV","Flow Hydrant"],
              "range": [[1,0],[1,0],[1,0],[1,0],[1,0],[1,0],[8,3,2,3,2,3],[10,3,2,3],[5,4]]}}
 }
},
{
 "layer": [
  {
   "data": {"name": "boxes"},
   "mark": {"type": "rect", "fill": "white", "stroke": "#5B9BD5", "strokeWidth": 1.5},
   "encoding": {
    "x": {"field": "t0", "type": "quantitative", "title": "TIME (s)", "scale": {"domain": [0, 365], "nice": false, "zero": false}},
    "x2": {"field": "t1"},
    "y": {"field": "p0", "type": "quantitative", "scale": {"domain": [-100, 1200], "nice": false, "zero": false}, "axis": null},
    "y2": {"field": "p1"}
   }
  },
  {
   "data": {"name": "boxes"},
   "mark": {"type": "text", "angle": 270, "fontWeight": "bold", "fontSize": 11, "font": "Lato", "align": "center", "baseline": "middle", "color": "#000"},
   "encoding": {
    "x": {"field": "tc", "type": "quantitative", "title": "TIME (s)", "scale": {"domain": [0, 365], "nice": false, "zero": false}},
    "y": {"field": "pc", "type": "quantitative", "scale": {"domain": [-100, 1200], "nice": false, "zero": false}, "axis": null},
    "text": {"field": "label"}
   }
  },
  {
   "data": {"name": "callouts"},
   "mark": {"type": "rect", "fill": "white", "stroke": "#5B9BD5", "strokeWidth": 1.5},
   "encoding": {
    "x": {"field": "t0", "type": "quantitative", "title": "TIME (s)", "scale": {"domain": [0, 365], "nice": false, "zero": false}},
    "x2": {"field": "t1"},
    "y": {"field": "p0", "type": "quantitative", "scale": {"domain": [-100, 1200], "nice": false, "zero": false}, "axis": null},
    "y2": {"field": "p1"}
   }
  },
  {
   "data": {"name": "callouts"},
   "mark": {"type": "text", "fontWeight": "bold", "fontSize": 12, "font": "Lato", "align": "center", "baseline": "middle", "lineBreak": "\n", "lineHeight": 17, "color": "#000"},
   "encoding": {
    "x": {"field": "tc", "type": "quantitative", "title": "TIME (s)", "scale": {"domain": [0, 365], "nice": false, "zero": false}},
    "y": {"field": "pc", "type": "quantitative", "scale": {"domain": [-100, 1200], "nice": false, "zero": false}, "axis": null},
    "text": {"field": "label"}
   }
  },
  {
   "data": {"name": "arrows"},
   "mark": {"type": "rule", "color": "#000", "strokeWidth": 1.5},
   "encoding": {
    "x": {"field": "t", "type": "quantitative", "title": "TIME (s)", "scale": {"domain": [0, 365], "nice": false, "zero": false}},
    "x2": {"field": "t2"},
    "y": {"field": "p", "type": "quantitative", "scale": {"domain": [-100, 1200], "nice": false, "zero": false}, "axis": null},
    "y2": {"field": "p2"}
   }
  },
  {
   "data": {"name": "arrows"},
   "mark": {"type": "point", "shape": "triangle-up", "filled": true, "color": "#000", "size": 70, "angle": 231, "opacity": 1},
   "encoding": {
    "x": {"field": "t2", "type": "quantitative", "title": "TIME (s)", "scale": {"domain": [0, 365], "nice": false, "zero": false}},
    "y": {"field": "p2", "type": "quantitative", "scale": {"domain": [-100, 1200], "nice": false, "zero": false}, "axis": null}
   }
  }
 ]
}
],
"resolve": {"scale": {"y": "independent"}}
}
